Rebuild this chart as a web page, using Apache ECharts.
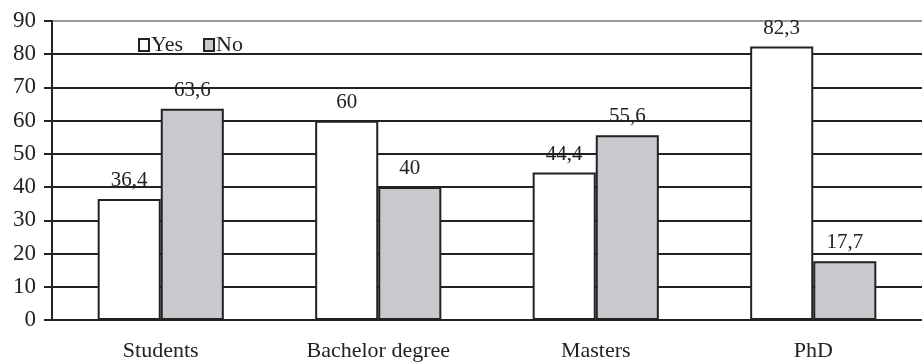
<!DOCTYPE html>
<html lang="en">
<head>
    <meta charset="UTF-8">
    <title>Yes / No by degree</title>
    <script src="https://cdn.jsdelivr.net/npm/echarts@6/dist/echarts.min.js"></script>
    <style>
        html, body { margin: 0; padding: 0; background: #fff; }
    </style>
</head>
<body>
    <div id="main" style="width:922px;height:362px;"></div>
<script type="text/javascript">
    // data
    var categories = ['Students', 'Bachelor degree', 'Masters', 'PhD'];
    var yesValues = [36.4, 60, 44.4, 82.3];
    var noValues = [63.6, 40, 55.6, 17.7];
    var yTicks = [0, 10, 20, 30, 40, 50, 60, 70, 80, 90];

    var serif = '"Liberation Serif", "DejaVu Serif", serif';
    var ink = '#222';

    // one color per split line, the top one (90) is gray
    var lineColors = [];
    for (var i = 0; i < yTicks.length; i++) {
        lineColors.push(i == yTicks.length - 1 ? '#999' : ink);
    }

    function commaLabel(p) {
        return String(p.value).replace('.', ',');
    }

    var myChart = echarts.init(document.getElementById('main'));
    var option = {
        animation: false,
        backgroundColor: '#fff',
        textStyle: { fontFamily: serif, color: ink },
        legend: {
            left: 133,
            top: 29,
            icon: 'rect',
            itemWidth: 10,
            itemHeight: 12,
            itemGap: 20,
            textStyle: { fontFamily: serif, fontSize: 22, color: ink, padding: [0, 0, 0, -3] },
            data: ['Yes', 'No']
        },
        grid: {
            left: 52,
            right: -6,
            top: 21,
            bottom: 42,
            containLabel: false
        },
        xAxis: {
            type: 'category',
            data: categories,
            axisLine: { lineStyle: { color: ink, width: 2 } },
            axisTick: { length: 8, lineStyle: { color: ink, width: 2 } },
            axisLabel: { margin: 20, fontFamily: serif, fontSize: 22, color: ink }
        },
        yAxis: {
            type: 'value',
            min: yTicks[0],
            max: yTicks[yTicks.length - 1],
            interval: 10,
            axisLine: { show: true, lineStyle: { color: ink, width: 2 } },
            axisTick: { show: true, length: 8, lineStyle: { color: ink, width: 2 } },
            axisLabel: { margin: 16, fontFamily: serif, fontSize: 23, color: ink },
            splitLine: { lineStyle: { color: lineColors, width: 2 } }
        },
        series: [
            {
                name: 'Yes',
                type: 'bar',
                data: yesValues,
                barWidth: '29%',
                barGap: '0%',
                itemStyle: { color: '#fff', borderColor: ink, borderWidth: 2 },
                label: {
                    show: true, position: 'top', distance: 8,
                    fontFamily: serif, fontSize: 21, color: ink,
                    formatter: commaLabel
                }
            },
            {
                name: 'No',
                type: 'bar',
                data: noValues,
                barWidth: '29%',
                itemStyle: { color: '#c8c9cc', borderColor: ink, borderWidth: 2 },
                label: {
                    show: true, position: 'top', distance: 8,
                    fontFamily: serif, fontSize: 21, color: ink,
                    formatter: commaLabel
                }
            }
        ]
    };
    myChart.setOption(option);
</script>
</body>
</html>
